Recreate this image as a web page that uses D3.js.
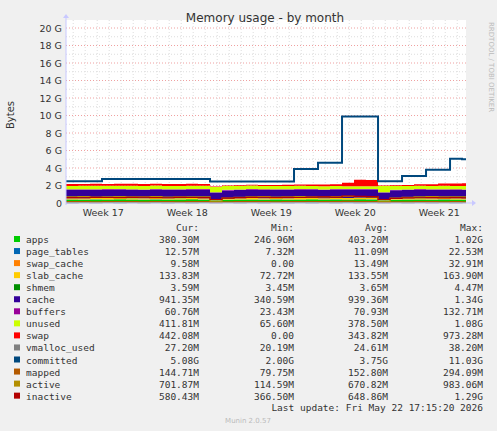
<!DOCTYPE html>
<html><head><meta charset="utf-8">
<script src="https://cdn.jsdelivr.net/npm/d3@7"></script>
<style>body{margin:0;background:#F0F0F0}svg{display:block}</style></head>
<body><svg id="c" width="497" height="431"></svg>
<script>
// time in days since start of plot
const days = d3.range(0, 34);
const weekLabels = ["Week 17","Week 18","Week 19","Week 20","Week 21"];
const weekCenters = [3.1, 10.1, 17.1, 24.1, 31.1];
const yTicks = [0,2,4,6,8,10,12,14,16,18,20];
// values in G
const apps      = [0.40,0.38,0.41,0.39,0.42,0.40,0.38,0.41,0.39,0.40,0.42,0.38,0.30,0.37,0.39,0.40,0.38,0.41,0.39,0.40,0.42,0.39,0.41,0.40,0.43,0.41,0.30,0.37,0.39,0.40,0.38,0.41,0.39,0.38];
const page_tables = days.map((d,i)=>[0.011,0.012,0.011,0.012][i%4]);
const swap_cache  = days.map((d,i)=>[0.010,0.015,0.012,0.018][i%4]);
const slab_cache  = [0.13,0.14,0.13,0.14,0.13,0.13,0.14,0.13,0.14,0.13,0.13,0.14,0.08,0.12,0.13,0.14,0.13,0.13,0.14,0.13,0.14,0.13,0.14,0.15,0.14,0.14,0.08,0.12,0.13,0.13,0.14,0.13,0.13,0.13];
const shmem = days.map(()=>0.0036);
const cache = [0.95,0.96,0.94,0.95,0.96,0.95,0.94,0.96,0.95,0.94,0.95,0.96,0.80,0.92,0.94,0.95,0.96,0.94,0.95,0.96,0.95,0.94,0.96,0.95,0.94,0.95,0.80,0.92,0.94,0.95,0.96,0.94,0.95,0.94];
const buffers = [0.07,0.06,0.07,0.08,0.07,0.06,0.07,0.08,0.07,0.06,0.07,0.08,0.03,0.06,0.07,0.08,0.07,0.06,0.07,0.08,0.07,0.06,0.07,0.08,0.07,0.06,0.03,0.06,0.07,0.08,0.07,0.06,0.07,0.06];
const unused = [0.38,0.39,0.40,0.37,0.38,0.40,0.39,0.38,0.37,0.39,0.38,0.37,0.60,0.45,0.40,0.39,0.38,0.37,0.38,0.36,0.35,0.36,0.34,0.30,0.32,0.33,0.70,0.45,0.40,0.39,0.38,0.40,0.39,0.41];
const swap = [0.22,0.22,0.22,0.22,0.22,0.22,0.22,0.22,0.22,0.22,0.22,0.22,0.05,0.05,0.08,0.10,0.10,0.12,0.12,0.15,0.15,0.20,0.20,0.40,0.72,0.72,0.05,0.08,0.10,0.15,0.20,0.25,0.28,0.30];
const vmalloc_used = days.map((d,i)=>[0.025,0.027,0.024,0.026][i%4]);
const committed = [2.5,2.5,2.5,2.75,2.75,2.75,2.75,2.75,2.75,2.75,2.75,2.75,2.45,2.45,2.45,2.45,2.45,2.45,2.45,3.9,3.9,4.6,4.6,9.9,9.9,9.9,2.5,2.5,3.1,3.1,3.8,3.8,5.05,5.0];
const mapped = [0.15,0.16,0.14,0.15,0.17,0.15,0.14,0.16,0.15,0.14,0.16,0.15,0.09,0.13,0.15,0.16,0.15,0.14,0.16,0.15,0.17,0.15,0.16,0.18,0.16,0.15,0.09,0.13,0.14,0.15,0.16,0.14,0.15,0.14];
const active = [0.70,0.72,0.68,0.71,0.73,0.69,0.70,0.72,0.68,0.71,0.70,0.69,0.20,0.55,0.65,0.70,0.72,0.68,0.71,0.73,0.69,0.70,0.72,0.75,0.73,0.71,0.20,0.55,0.65,0.70,0.72,0.69,0.71,0.70];
const inactive = [0.62,0.60,0.65,0.63,0.61,0.64,0.66,0.62,0.60,0.65,0.63,0.61,0.40,0.55,0.62,0.64,0.66,0.62,0.65,0.63,0.67,0.70,0.68,0.80,0.75,0.72,0.40,0.52,0.58,0.60,0.62,0.59,0.61,0.58];

const stackNames = ["apps","page_tables","swap_cache","slab_cache","shmem","cache","buffers","unused","swap"];
const stackData = {apps,page_tables,swap_cache,slab_cache,shmem,cache,buffers,unused,swap};
const lineNames = ["vmalloc_used","committed","mapped","active","inactive"];
const lineData = {vmalloc_used,committed,mapped,active,inactive};
const colors = {apps:"#00CC00",page_tables:"#0066B3",swap_cache:"#FF8000",slab_cache:"#FFCC00",shmem:"#008F00",cache:"#330099",buffers:"#990099",unused:"#CCFF00",swap:"#FF0000",vmalloc_used:"#808080",committed:"#00487D",mapped:"#B35A00",active:"#B38F00",inactive:"#B30000"};
const legendRows = [
 ["apps","380.30M","246.96M","403.20M","1.02G"],
 ["page_tables","12.57M","7.32M","11.09M","22.53M"],
 ["swap_cache","9.58M","0.00","13.49M","32.91M"],
 ["slab_cache","133.83M","72.72M","133.55M","163.90M"],
 ["shmem","3.59M","3.45M","3.65M","4.47M"],
 ["cache","941.35M","340.59M","939.36M","1.34G"],
 ["buffers","60.76M","23.43M","70.93M","132.71M"],
 ["unused","411.81M","65.60M","378.50M","1.08G"],
 ["swap","442.08M","0.00","343.82M","973.28M"],
 ["vmalloc_used","27.20M","20.19M","24.61M","38.20M"],
 ["committed","5.08G","2.00G","3.75G","11.03G"],
 ["mapped","144.71M","79.75M","152.80M","294.09M"],
 ["active","701.87M","114.59M","670.82M","983.06M"],
 ["inactive","580.43M","366.50M","648.86M","1.29G"]];

const svg = d3.select("#c");
const L=66,R=466,T=28,B=203;
const x = d3.scaleLinear().domain([0,33.33]).range([L,R]);
const y = d3.scaleLinear().domain([0,20]).range([B,T]);
svg.append("rect").attr("x",L).attr("y",T-8).attr("width",R-L).attr("height",B-T+8).attr("fill","#fff");
// grid
for(let g=1; g<=20; g++){
  svg.append("line").attr("x1",L).attr("x2",R).attr("y1",y(g)).attr("y2",y(g))
   .attr("stroke", g%2==0?"#F0A0A0":"#DDDDDD").attr("stroke-dasharray","1,2").attr("stroke-width",1);
}
for(let d=1; d<34; d++){
  const isMajor = weekCenters.some(c=>Math.abs(c-3.5-d+0.1)<0.01);
  svg.append("line").attr("x1",x(d-0.4)).attr("x2",x(d-0.4)).attr("y1",T-8).attr("y2",B)
   .attr("stroke", isMajor?"#F0A0A0":"#DDDDDD").attr("stroke-dasharray","1,2");
}
// stack
const rows = days.map((d,i)=>{const o={d}; stackNames.forEach(n=>o[n]=stackData[n][i]); return o;});
const series = d3.stack().keys(stackNames)(rows);
const area = d3.area().curve(d3.curveStepAfter).x(p=>x(p.data.d)).y0(p=>y(p[0])).y1(p=>y(p[1]));
const ext = s=>{const a=s.map(p=>p); a.push(Object.assign([...a[a.length-1]],{data:{d:33.33}})); return a;};
series.forEach(s=>svg.append("path").attr("d",area(ext(s))).attr("fill",colors[s.key]));
const line = d3.line().curve(d3.curveStepAfter).x(p=>x(p[0])).y(p=>y(p[1]));
lineNames.forEach(n=>{
  const pts = days.map((d,i)=>[d,lineData[n][i]]); pts.push([33.33,lineData[n][33]]);
  svg.append("path").attr("d",line(pts)).attr("fill","none").attr("stroke",colors[n]).attr("stroke-width",n=="committed"?2:1.2);
});
// axes
svg.append("line").attr("x1",L).attr("x2",R+6).attr("y1",B).attr("y2",B).attr("stroke","#C8C8FF");
svg.append("line").attr("x1",L).attr("x2",L).attr("y1",B+2).attr("y2",T-10).attr("stroke","#C8C8FF");
svg.append("path").attr("d",`M${R+6},${B-3}L${R+10},${B}L${R+6},${B+3}Z`).attr("fill","#C8C8FF");
svg.append("path").attr("d",`M${L-3},${T-10}L${L},${T-14}L${L+3},${T-10}Z`).attr("fill","#C8C8FF");
const tf = "DejaVu Sans";
yTicks.forEach(t=>svg.append("text").attr("x",L-4).attr("y",y(t)+3.5).attr("text-anchor","end")
  .attr("font-family",tf).attr("font-size",9.5).attr("fill","#333").text(t==0?"0":t+" G"));
weekLabels.forEach((w,i)=>svg.append("text").attr("x",x(weekCenters[i])).attr("y",216).attr("text-anchor","middle")
  .attr("font-family",tf).attr("font-size",9.5).attr("fill","#333").text(w));
svg.append("text").attr("x",265).attr("y",22).attr("text-anchor","middle").attr("font-family",tf).attr("font-size",12).attr("fill","#333").text("Memory usage - by month");
svg.append("text").attr("transform","translate(14,115) rotate(-90)").attr("text-anchor","middle").attr("font-family",tf).attr("font-size",10).attr("fill","#333").text("Bytes");
svg.append("text").attr("transform","translate(489,22) rotate(90)").attr("font-family",tf).attr("font-size",7).attr("fill","#BBB").text("RRDTOOL / TOBI OETIKER");
// legend
const mf="DejaVu Sans Mono", fs=9.5;
const colsX=[199,294,388,483];
["Cur:","Min:","Avg:","Max:"].forEach((h,i)=>svg.append("text").attr("x",colsX[i]).attr("y",231).attr("text-anchor","end").attr("font-family",mf).attr("font-size",fs).attr("fill","#333").text(h));
legendRows.forEach((r,j)=>{
  const yy=243+j*12.05;
  svg.append("rect").attr("x",14).attr("y",yy-7).attr("width",6).attr("height",6).attr("fill",colors[r[0]]);
  svg.append("text").attr("x",26).attr("y",yy).attr("font-family",mf).attr("font-size",fs).attr("fill","#333").text(r[0]);
  r.slice(1).forEach((v,i)=>svg.append("text").attr("x",colsX[i]).attr("y",yy).attr("text-anchor","end").attr("font-family",mf).attr("font-size",fs).attr("fill","#333").text(v));
});
svg.append("text").attr("x",483).attr("y",411).attr("text-anchor","end").attr("font-family",mf).attr("font-size",fs).attr("fill","#333").text("Last update: Fri May 22 17:15:20 2026");
svg.append("text").attr("x",248).attr("y",423).attr("text-anchor","middle").attr("font-family",tf).attr("font-size",7).attr("fill","#BBB").text("Munin 2.0.57");
</script></body></html>
